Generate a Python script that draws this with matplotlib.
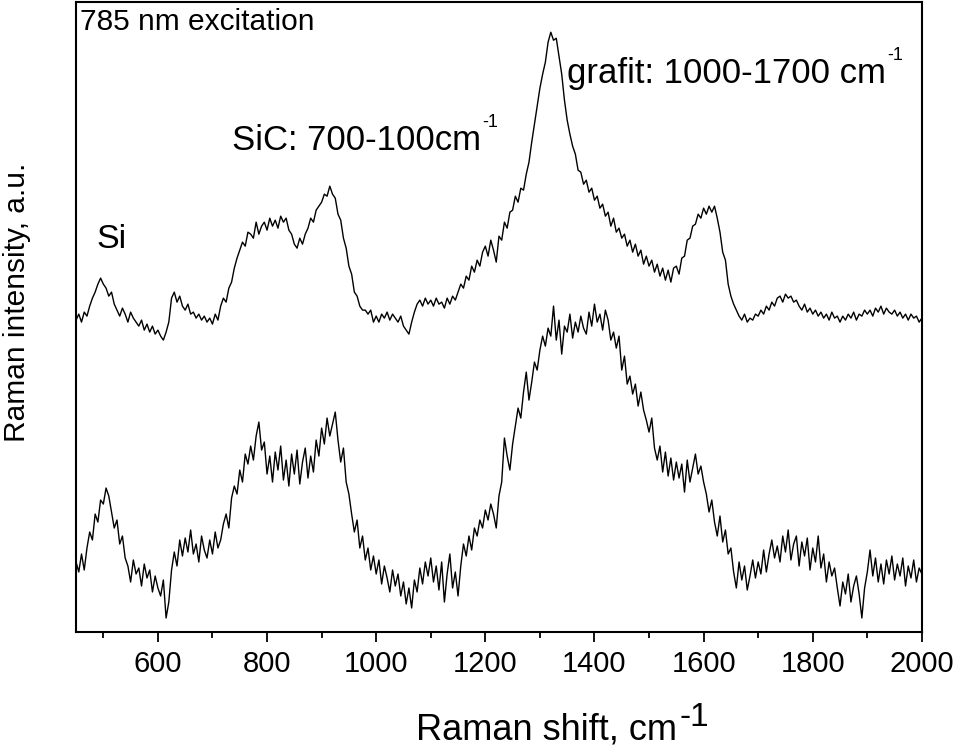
import numpy as np
import matplotlib
matplotlib.use("Agg")
import matplotlib.pyplot as plt
from matplotlib.ticker import MultipleLocator

plt.rcParams["font.family"] = ["Liberation Sans", "DejaVu Sans"]

# Raman shift grid (cm-1), one reading every 5 cm-1
shift = np.arange(450, 2001, 5)

# upper spectrum (offset), arbitrary units
upper = [
    312, 318, 310, 320, 316, 326, 334, 340, 348, 354,
    348, 344, 336, 340, 328, 322, 316, 324, 318, 310,
    320, 314, 310, 306, 312, 302, 308, 300, 306, 298,
    302, 296, 292, 300, 310, 334, 340, 330, 336, 326,
    322, 328, 318, 320, 314, 318, 312, 316, 310, 314,
    308, 318, 312, 326, 334, 330, 344, 350, 364, 374,
    382, 390, 386, 400, 398, 394, 410, 398, 406, 410,
    402, 414, 406, 412, 404, 416, 410, 414, 402, 398,
    388, 384, 394, 388, 398, 404, 414, 410, 422, 426,
    430, 438, 436, 446, 438, 434, 418, 412, 394, 384,
    366, 358, 340, 336, 326, 322, 322, 318, 322, 310,
    316, 310, 318, 314, 320, 312, 318, 314, 310, 316,
    306, 302, 298, 310, 320, 328, 332, 326, 334, 328,
    332, 326, 334, 328, 330, 324, 334, 328, 336, 332,
    340, 348, 344, 356, 352, 366, 360, 372, 366, 380,
    386, 376, 392, 382, 370, 396, 392, 410, 404, 420,
    422, 436, 430, 444, 442, 458, 470, 490, 508, 526,
    544, 558, 570, 590, 600, 592, 594, 576, 558, 532,
    512, 498, 486, 478, 462, 460, 448, 452, 440, 444,
    432, 436, 424, 428, 416, 420, 406, 414, 400, 404,
    394, 398, 386, 392, 380, 388, 376, 382, 368, 376,
    366, 372, 360, 368, 356, 364, 352, 362, 350, 364,
    366, 358, 374, 376, 392, 394, 406, 408, 418, 414,
    424, 418, 426, 420, 426, 414, 400, 380, 372, 348,
    336, 328, 322, 316, 312, 318, 310, 314, 312, 318,
    316, 322, 318, 326, 322, 330, 326, 334, 336, 330,
    338, 334, 336, 330, 332, 326, 322, 328, 320, 324,
    318, 322, 316, 320, 314, 318, 312, 320, 314, 316,
    310, 316, 312, 318, 314, 320, 312, 318, 316, 322,
    318, 322, 316, 324, 320, 326, 318, 324, 320, 318,
    322, 316, 320, 314, 318, 312, 318, 314, 316, 310,
    314,
]

# lower spectrum
lower = [
    70, 60, 78, 62, 84, 100, 92, 118, 110, 132,
    128, 144, 136, 120, 104, 112, 88, 96, 74, 66,
    50, 72, 58, 64, 46, 68, 54, 62, 40, 56,
    44, 36, 52, 14, 30, 62, 80, 66, 92, 76,
    94, 80, 102, 78, 88, 70, 96, 82, 74, 92,
    78, 100, 84, 92, 108, 118, 104, 134, 146, 138,
    162, 150, 178, 168, 186, 172, 196, 210, 182, 190,
    158, 176, 150, 180, 162, 186, 152, 172, 146, 178,
    158, 182, 148, 170, 184, 154, 176, 160, 192, 176,
    204, 188, 214, 196, 208, 220, 192, 170, 184, 150,
    138, 118, 100, 112, 84, 96, 72, 84, 62, 76,
    58, 72, 48, 66, 54, 40, 62, 46, 58, 36,
    50, 28, 44, 24, 52, 40, 64, 48, 70, 56,
    74, 50, 66, 42, 70, 30, 58, 78, 44, 60,
    36, 66, 88, 76, 96, 82, 104, 96, 112, 104,
    122, 112, 128, 118, 104, 136, 150, 194, 176, 162,
    188, 206, 224, 214, 240, 260, 232, 250, 270, 262,
    282, 296, 286, 304, 296, 326, 292, 312, 278, 306,
    300, 318, 294, 310, 300, 316, 304, 298, 320, 306,
    328, 310, 318, 302, 322, 312, 292, 300, 284, 296,
    262, 276, 248, 256, 238, 248, 226, 240, 222, 212,
    200, 214, 184, 172, 186, 160, 180, 156, 174, 152,
    170, 154, 168, 140, 172, 150, 164, 178, 158, 166,
    150, 138, 120, 132, 110, 96, 116, 90, 102, 78,
    84, 60, 44, 70, 52, 66, 42, 56, 72, 54,
    70, 58, 82, 60, 78, 92, 74, 86, 70, 96,
    80, 102, 72, 88, 96, 66, 90, 76, 94, 62,
    84, 70, 96, 64, 78, 50, 70, 56, 64, 44,
    26, 50, 38, 58, 30, 46, 56, 38, 14, 44,
    60, 82, 56, 74, 50, 68, 48, 72, 58, 76,
    52, 68, 56, 74, 46, 66, 54, 72, 50, 64,
    58,
]


def with_sup(parent, fontsize, dx=1):
    """Small '-1' superscript hooked to the top right of a text artist."""
    return ax.annotate("-1", xy=(1.0, 0.78), xycoords=parent,
                       xytext=(dx, 0), textcoords="offset points",
                       fontsize=fontsize, ha="left", va="bottom")


fig = plt.figure(figsize=(9.59, 7.51), dpi=100)
ax = fig.add_axes([0.0793, 0.1585, 0.882, 0.8385])

ax.plot(shift, upper, color="black", linewidth=1.0)
ax.plot(shift, lower, color="black", linewidth=1.0)

ax.set_xlim(450, 2000)
ax.set_ylim(0, 630)

ax.xaxis.set_major_locator(MultipleLocator(200))
ax.xaxis.set_minor_locator(MultipleLocator(100))
ax.tick_params(axis="x", which="major", direction="out", length=7, width=1.3,
               labelsize=21, pad=6)
ax.tick_params(axis="x", which="minor", direction="out", length=4, width=1.3)
ax.set_yticks([])
for s in ax.spines.values():
    s.set_linewidth(1.5)

# axis titles
xl = fig.text(0.434, 0.005, "Raman shift, cm", fontsize=26, ha="left", va="bottom")
ax.annotate("-1", xy=(1.0, 0.4), xycoords=xl, xytext=(2, 0),
            textcoords="offset points", fontsize=24, ha="left", va="bottom")
fig.text(0.003, 0.598, "Raman intensity, a.u.", fontsize=21.5, rotation=90,
         ha="left", va="center")

# annotations
ax.text(457, 602, "785 nm excitation", fontsize=21.5, ha="left", va="baseline")
ax.text(488, 384, "Si", fontsize=24.5, ha="left", va="baseline")
t1 = ax.text(735, 482, "SiC: 700-100cm", fontsize=25, ha="left", va="baseline")
with_sup(t1, 13)
t2 = ax.text(1350, 549, "grafit: 1000-1700 cm", fontsize=25, ha="left", va="baseline")
with_sup(t2, 13)

fig.savefig("out.png", dpi=100)
